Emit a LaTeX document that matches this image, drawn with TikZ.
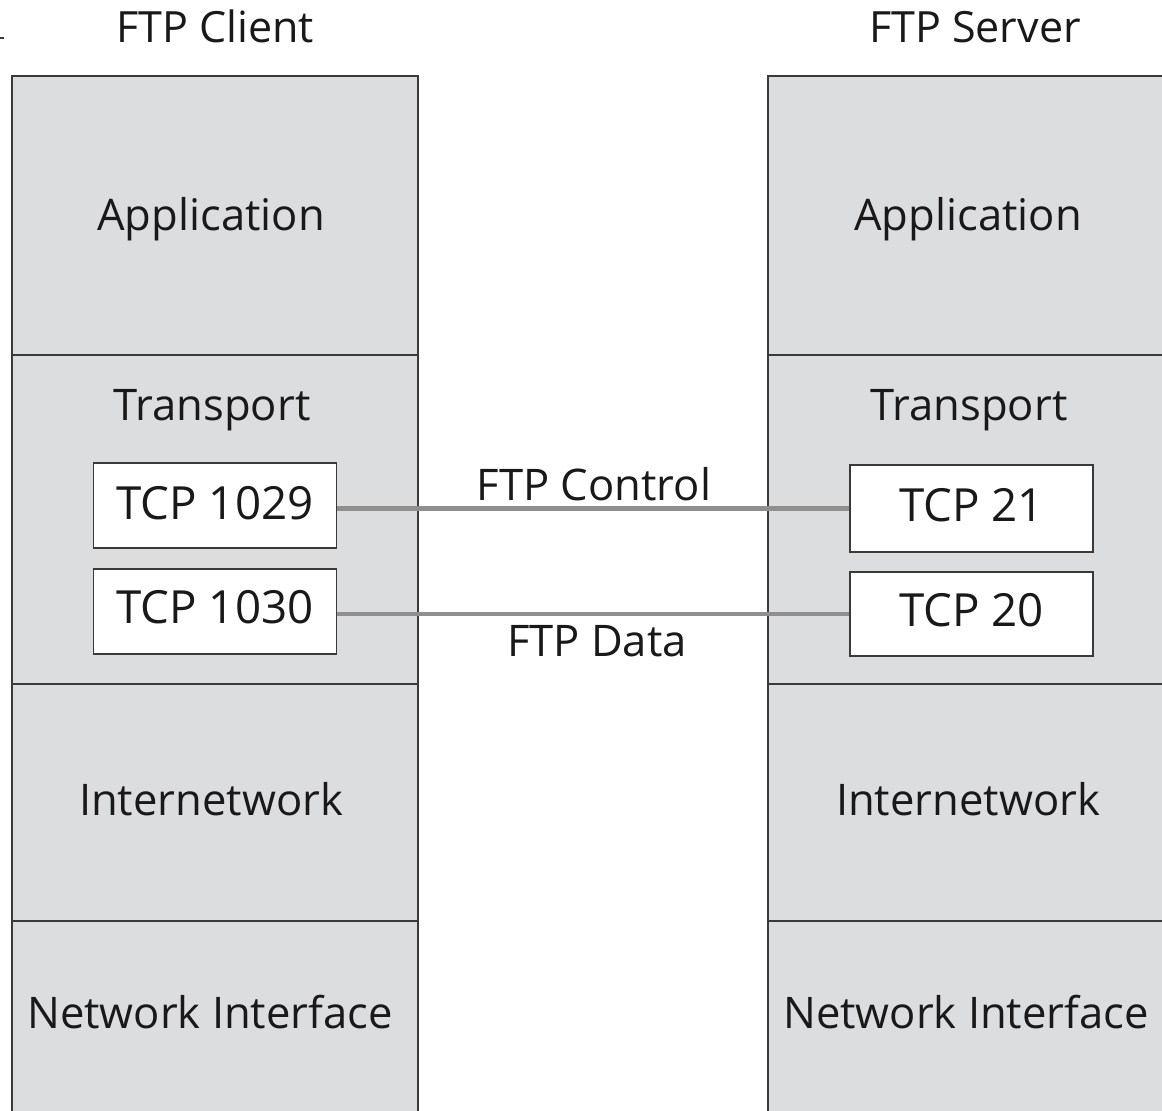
\documentclass[tikz,border=0pt]{standalone}
\usepackage{fontspec}
\setmainfont{Open Sans}
\definecolor{layerfill}{HTML}{DCDDDF}
\definecolor{edge}{HTML}{3A3A3A}
\definecolor{link}{HTML}{8F8F8F}
\begin{document}
\begin{tikzpicture}[x=0.02cm,y=-0.02cm,
  layer/.style={draw=edge,fill=layerfill,line width=1.1pt,inner sep=0pt},
  portbox/.style={draw=edge,fill=white,line width=1.1pt,inner sep=0pt,minimum width=4.86cm},
  lbl/.style={anchor=base,inner sep=0pt,font=\fontsize{24.8}{30}\selectfont,text=black!90},
  plbl/.style={anchor=base,inner sep=0pt,font=\fontsize{26}{30}\selectfont,text=black!90},
  ttl/.style={anchor=base,inner sep=0pt,font=\fontsize{24.5}{28}\selectfont,text=black!90},
  conn/.style={draw=link,line width=2.3pt}]
\useasboundingbox (0,0) rectangle (1162,1111);
\fill[white] (0,0) rectangle (1162,1111);
\begin{scope}
\clip (0,0) rectangle (1162,1111);
% client stack
\node[layer,minimum width=8.12cm,minimum height=5.58cm] (capp) at (215,215.5) {};
\node[layer,minimum width=8.12cm,minimum height=6.58cm] (ctrn) at (215,519.5) {};
\node[layer,minimum width=8.12cm,minimum height=4.74cm] (cint) at (215,802.5) {};
\node[layer,minimum width=8.12cm,minimum height=4.6cm] (cnet) at (215,1036) {};
% server stack
\node[layer,minimum width=8cm,minimum height=5.58cm] (sapp) at (968,215.5) {};
\node[layer,minimum width=8cm,minimum height=6.58cm] (strn) at (968,519.5) {};
\node[layer,minimum width=8cm,minimum height=4.74cm] (sint) at (968,802.5) {};
\node[layer,minimum width=8cm,minimum height=4.6cm] (snet) at (968,1036) {};
% mark at top left
\draw[edge,line width=1pt] (0,38) -- (4,38);
\end{scope}
% titles
\node[ttl] (tc) at (215,43) {FTP Client};
\node[ttl] (ts) at (975,43) {FTP Server};
% layer labels
\node[lbl] at (211,231) {Application};
\node[lbl] at (968,231) {Application};
\node[lbl] at (212,420) {Transport};
\node[lbl] at (969,420) {Transport};
\node[lbl] at (211,815) {Internetwork};
\node[lbl] at (968,815) {Internetwork};
\node[lbl] at (210,1028) {Network Interface};
\node[lbl] at (966,1028) {Network Interface};
% port boxes
\node[portbox,minimum height=1.7cm] (p1029) at (215,505.5) {};
\node[portbox,minimum height=1.7cm] (p1030) at (215,611.5) {};
\node[portbox,minimum height=1.74cm] (p21) at (971.5,508.5) {};
\node[portbox,minimum height=1.68cm] (p20) at (971.5,614) {};
\node[plbl] at (p1029.center |- 0,519) {TCP 1029};
\node[plbl] at (p1030.center |- 0,623) {TCP 1030};
\node[plbl] at (p21.center |- 0,521) {TCP 21};
\node[plbl] at (p20.center |- 0,626) {TCP 20};
% connectors
\draw[conn] (p1029.east |- p21.west) -- (p21.west);
\draw[conn] (p1030.east |- p20.west) -- (p20.west);
\node[lbl] (lc) at (594,500) {FTP Control};
\node[lbl] (ld) at (597,656) {FTP Data};
\end{tikzpicture}
\end{document}
